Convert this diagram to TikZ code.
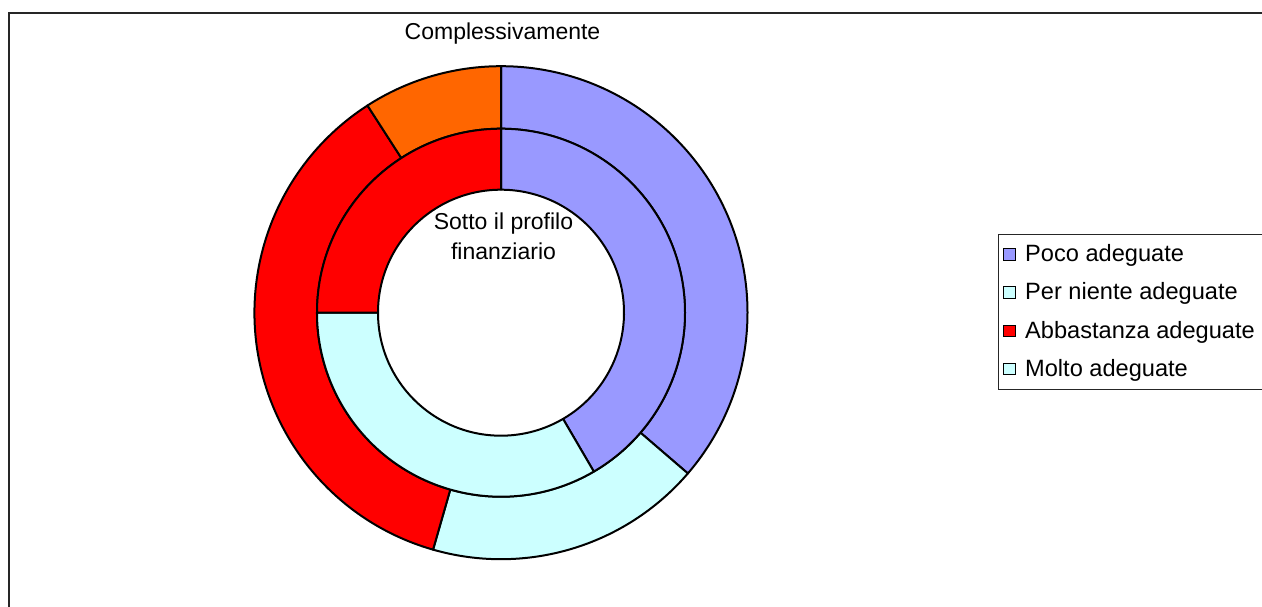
\documentclass[tikz,border=0pt]{standalone}
\usepackage{fontspec}
\setmainfont{Liberation Sans}
\definecolor{cpoco}{HTML}{9999FF}
\definecolor{cniente}{HTML}{CCFFFF}
\definecolor{cabba}{HTML}{FF0000}
\definecolor{cmolto}{HTML}{FF6600}
\definecolor{frame}{HTML}{262626}
\newcommand{\ringseg}[5]{%
  \filldraw[seg,fill=#5,shift={(C)}] (#1:#3pt) arc[start angle=#1,end angle=#2,radius=#3pt]
    -- (#2:#4pt) arc[start angle=#2,end angle=#1,radius=#4pt] -- cycle;}
\begin{document}
\begin{tikzpicture}[x=1pt,y=1pt,
  seg/.style={draw=black,line width=2pt,line join=round},
  txt/.style={font=\fontsize{23}{30}\selectfont,inner sep=0pt,text=black},
  legtxt/.style={font=\fontsize{23.6}{30}\selectfont,inner sep=0pt,text=black,anchor=base west},
  legsq/.style={draw=black,line width=1pt,minimum size=11.5pt,inner sep=0pt}]
\useasboundingbox (0,0) rectangle (1262,606);
\fill[white] (0,0) rectangle (1262,606);
\draw[line width=1.8pt,draw=frame] (8.7,-10) -- (8.7,593.3) -- (1280,593.3);
\coordinate (C) at (501,293.3);
% outer ring
\ringseg{90}{-40.7}{246.5}{184}{cpoco}
\ringseg{-40.7}{-106}{246.5}{184}{cniente}
\ringseg{-106}{-237.2}{246.5}{184}{cabba}
\ringseg{-237.2}{-270}{246.5}{184}{cmolto}
% inner ring
\ringseg{90}{-59.7}{184}{123}{cpoco}
\ringseg{-59.7}{-180}{184}{123}{cniente}
\ringseg{-180}{-270}{184}{123}{cabba}
% texts
\node[txt,anchor=base] (title) at (502.5,566) {Complessivamente};
\node[txt,anchor=base,align=center] (inner) at (503.5,346) {Sotto il profilo\\finanziario};
% legend
\draw[line width=1pt,draw=frame] (1280,371) -- (998.3,371) -- (998.3,216) -- (1280,216);
\node[legsq,fill=cpoco] (s1) at (1009.5,351.5) {};
\node[legsq,fill=cniente] (s2) at (1009.5,313.5) {};
\node[legsq,fill=cabba] (s3) at (1009.5,275) {};
\node[legsq,fill=cniente] (s4) at (1009.5,237) {};
\node[legtxt] (l1) at (1025,344) {Poco adeguate};
\node[legtxt] (l2) at (1025,306) {Per niente adeguate};
\node[legtxt] (l3) at (1025,267.5) {Abbastanza adeguate};
\node[legtxt] (l4) at (1025,229.5) {Molto adeguate};
\end{tikzpicture}
\end{document}
